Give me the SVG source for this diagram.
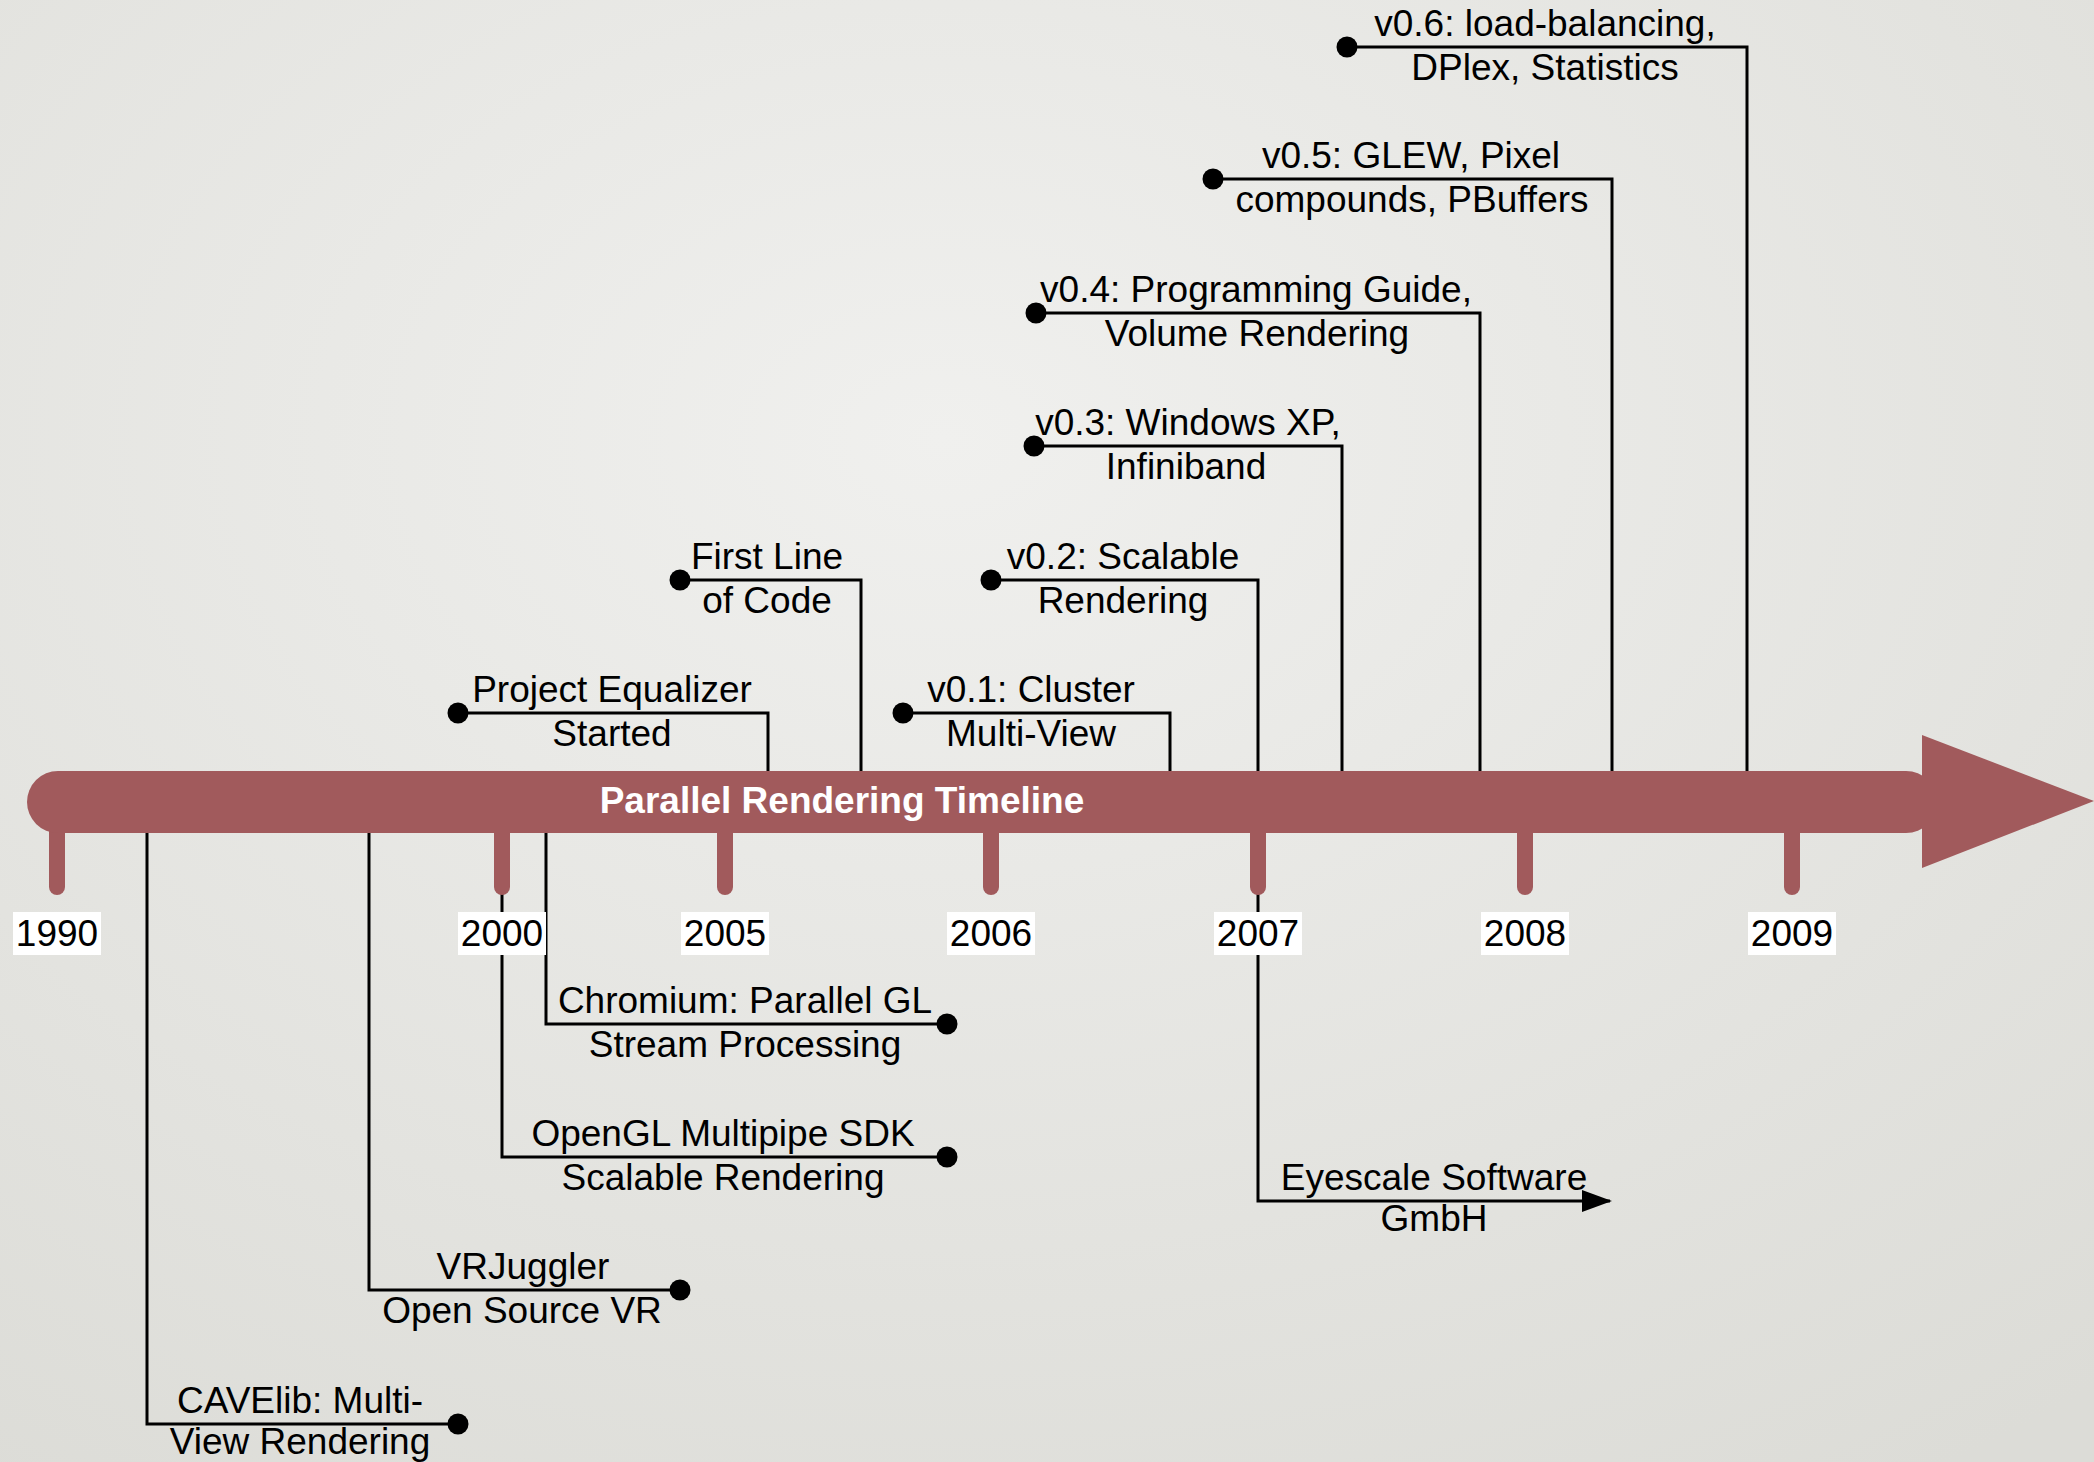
<svg xmlns="http://www.w3.org/2000/svg" width="2094" height="1462" viewBox="0 0 2094 1462">
<defs>
<radialGradient id="bg" cx="0.45" cy="0.3" r="0.85">
<stop offset="0" stop-color="#F0F0EE"/>
<stop offset="1" stop-color="#DCDCD7"/>
</radialGradient>
<marker id="dot" markerUnits="userSpaceOnUse" viewBox="-11 -11 22 22" markerWidth="22" markerHeight="22" refX="0" refY="0" orient="auto">
<circle cx="0" cy="0" r="10.5" fill="#000"/>
</marker>
<marker id="arr" markerUnits="userSpaceOnUse" viewBox="0 0 30 24" markerWidth="30" markerHeight="24" refX="28" refY="12" orient="auto">
<path d="M0,1 L30,12 L0,23 Z" fill="#000"/>
</marker>
<style>
.t{font-family:"Liberation Sans",Arial,sans-serif;font-size:37px;fill:#000;text-anchor:middle}
.title{font-family:"Liberation Sans",Arial,sans-serif;font-size:37px;font-weight:bold;fill:#fff;text-anchor:middle}
.c{fill:none;stroke:#000;stroke-width:3}
.top{marker-start:url(#dot)}
.bot{marker-end:url(#dot)}
.tick{stroke:#A15A5C;stroke-width:16;stroke-linecap:round}
.yb{fill:#fff}
</style>
</defs>
<rect width="2094" height="1462" fill="url(#bg)"/>

<g id="connectors">
<path class="c top" d="M458 713 H768 V775"/>
<path class="c top" d="M680 580 H861 V775"/>
<path class="c top" d="M903 713 H1170 V775"/>
<path class="c top" d="M991 580 H1258 V775"/>
<path class="c top" d="M1034 446 H1342 V775"/>
<path class="c top" d="M1036 313 H1480 V775"/>
<path class="c top" d="M1213 179 H1612 V775"/>
<path class="c top" d="M1347 47 H1747 V775"/>
<path class="c bot" d="M147 828 V1424 H458"/>
<path class="c bot" d="M369 828 V1290 H680"/>
<path class="c bot" d="M502 828 V1157 H947"/>
<path class="c bot" d="M546 828 V1024 H947"/>
<path class="c" marker-end="url(#arr)" d="M1258 828 V1201 H1610"/>
</g>

<g id="timeline">
<line class="tick" x1="57" y1="820" x2="57" y2="887"/>
<line class="tick" x1="502" y1="820" x2="502" y2="887"/>
<line class="tick" x1="725" y1="820" x2="725" y2="887"/>
<line class="tick" x1="991" y1="820" x2="991" y2="887"/>
<line class="tick" x1="1258" y1="820" x2="1258" y2="887"/>
<line class="tick" x1="1525" y1="820" x2="1525" y2="887"/>
<line class="tick" x1="1792" y1="820" x2="1792" y2="887"/>
<rect x="27" y="771" width="1910" height="62" rx="31" fill="#A15A5C"/>
<path d="M1922 735 L2094 801 L1922 868 Z" fill="#A15A5C"/>
<text class="title" x="842" y="813">Parallel Rendering Timeline</text>
</g>

<g id="years">
<rect class="yb" x="13" y="912" width="88" height="43"/><text class="t" x="57" y="946">1990</text>
<rect class="yb" x="458" y="912" width="88" height="43"/><text class="t" x="502" y="946">2000</text>
<rect class="yb" x="681" y="912" width="88" height="43"/><text class="t" x="725" y="946">2005</text>
<rect class="yb" x="947" y="912" width="88" height="43"/><text class="t" x="991" y="946">2006</text>
<rect class="yb" x="1214" y="912" width="88" height="43"/><text class="t" x="1258" y="946">2007</text>
<rect class="yb" x="1481" y="912" width="88" height="43"/><text class="t" x="1525" y="946">2008</text>
<rect class="yb" x="1748" y="912" width="88" height="43"/><text class="t" x="1792" y="946">2009</text>
</g>

<g id="project-equalizer"><text class="t" x="612" y="702">Project Equalizer</text><text class="t" x="612" y="746">Started</text></g>
<g id="first-line"><text class="t" x="767" y="569">First Line</text><text class="t" x="767" y="613">of Code</text></g>
<g id="v01"><text class="t" x="1031" y="702">v0.1: Cluster</text><text class="t" x="1031" y="746">Multi-View</text></g>
<g id="v02"><text class="t" x="1123" y="569">v0.2: Scalable</text><text class="t" x="1123" y="613">Rendering</text></g>
<g id="v03"><text class="t" x="1188" y="435">v0.3: Windows XP,</text><text class="t" x="1186" y="479">Infiniband</text></g>
<g id="v04"><text class="t" x="1256" y="302">v0.4: Programming Guide,</text><text class="t" x="1257" y="346">Volume Rendering</text></g>
<g id="v05"><text class="t" x="1411" y="168">v0.5: GLEW, Pixel</text><text class="t" x="1412" y="212">compounds, PBuffers</text></g>
<g id="v06"><text class="t" x="1545" y="36">v0.6: load-balancing,</text><text class="t" x="1545" y="80">DPlex, Statistics</text></g>
<g id="chromium"><text class="t" x="745" y="1013">Chromium: Parallel GL</text><text class="t" x="745" y="1057">Stream Processing</text></g>
<g id="opengl-multipipe"><text class="t" x="723" y="1146">OpenGL Multipipe SDK</text><text class="t" x="723" y="1190">Scalable Rendering</text></g>
<g id="vrjuggler"><text class="t" x="523" y="1279">VRJuggler</text><text class="t" x="522" y="1323">Open Source VR</text></g>
<g id="cavelib"><text class="t" x="300" y="1413">CAVElib: Multi-</text><text class="t" x="300" y="1454">View Rendering</text></g>
<g id="eyescale"><text class="t" x="1434" y="1190">Eyescale Software</text><text class="t" x="1434" y="1231">GmbH</text></g>
</svg>
